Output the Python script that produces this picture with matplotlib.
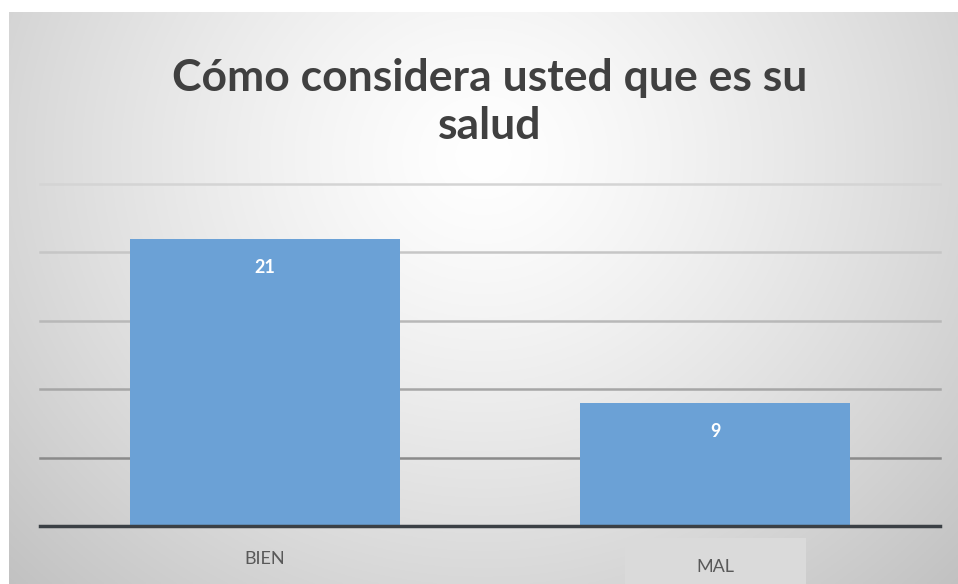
import numpy as np
import matplotlib
matplotlib.use("Agg")
import matplotlib.pyplot as plt
from matplotlib.patches import Rectangle

categories = ["BIEN", "MAL"]
values = [21, 9]
title_lines = ["Cómo considera usted que es su", "salud"]
grid_levels = [5, 10, 15, 20, 25]

W, H = 958, 584
fig = plt.figure(figsize=(W / 100, H / 100), dpi=100)
fig.patch.set_facecolor("white")

# background radial gradient panel
bg = fig.add_axes([9 / W, 0, (W - 9) / W, (H - 12) / H], zorder=0)
ny, nx = 300, 500
yy, xx = np.mgrid[0:1:ny * 1j, 0:1:nx * 1j]
r = np.sqrt(((xx - 0.5) / 0.72) ** 2 + ((yy - 0.25) / 1.1) ** 2)
v = 1.0 - 0.25 * np.clip(r, 0, 1) ** 1.3
img = np.dstack([v, v, v])
bg.imshow(img, aspect="auto", extent=[0, 1, 1, 0])
bg.set_xlim(0, 1); bg.set_ylim(1, 0)
bg.axis("off")

ax = fig.add_axes([40 / W, (H - 526) / H, 900 / W, (526 - 184) / H], zorder=1)
ax.set_facecolor("none")
ax.set_xlim(-0.5, 1.5)
ax.set_ylim(0, 25)
grid_colors = ["#8a8a8a", "#a6a6a6", "#b8b8b8", "#c6c6c6", "#d4d4d4"]
for g, c in zip(grid_levels, grid_colors):
    ax.axhline(g, color=c, lw=1.8, zorder=1, clip_on=False)
x = np.arange(len(categories))
bars = ax.bar(x, values, width=0.6, color="#6ba1d6", zorder=2)
ax.axhline(0, color="#3b4045", lw=2.5, zorder=3, clip_on=False)
for xi, v_ in zip(x, values):
    ax.text(xi, v_ - 2.1, str(v_), ha="center", va="center", color="white",
            fontsize=13, fontweight="bold", family="Lato", zorder=4)
for s in ax.spines.values():
    s.set_visible(False)
ax.set_xticks([]); ax.set_yticks([])

# category labels
fig.patches.append(Rectangle((625 / W, 0), 181 / W, 46 / H, transform=fig.transFigure,
                             facecolor="#dadada", edgecolor="none", zorder=1))
label_y = [H - 559, H - 567]
for xi, lab, ly in zip(x, categories, label_y):
    xp = ax.transData.transform((xi, 0))[0]
    fig.text(xp / W, ly / H, lab, ha="center", va="center", fontsize=13,
             color="#595959", family="Lato", zorder=5)

for line, ty in zip(title_lines, [78, 126]):
    fig.text(490 / W, 1 - ty / H, line, ha="center", va="center",
             fontsize=32, fontweight="bold", color="#404040", family="Lato", zorder=5)

fig.savefig("out.png", dpi=100)
